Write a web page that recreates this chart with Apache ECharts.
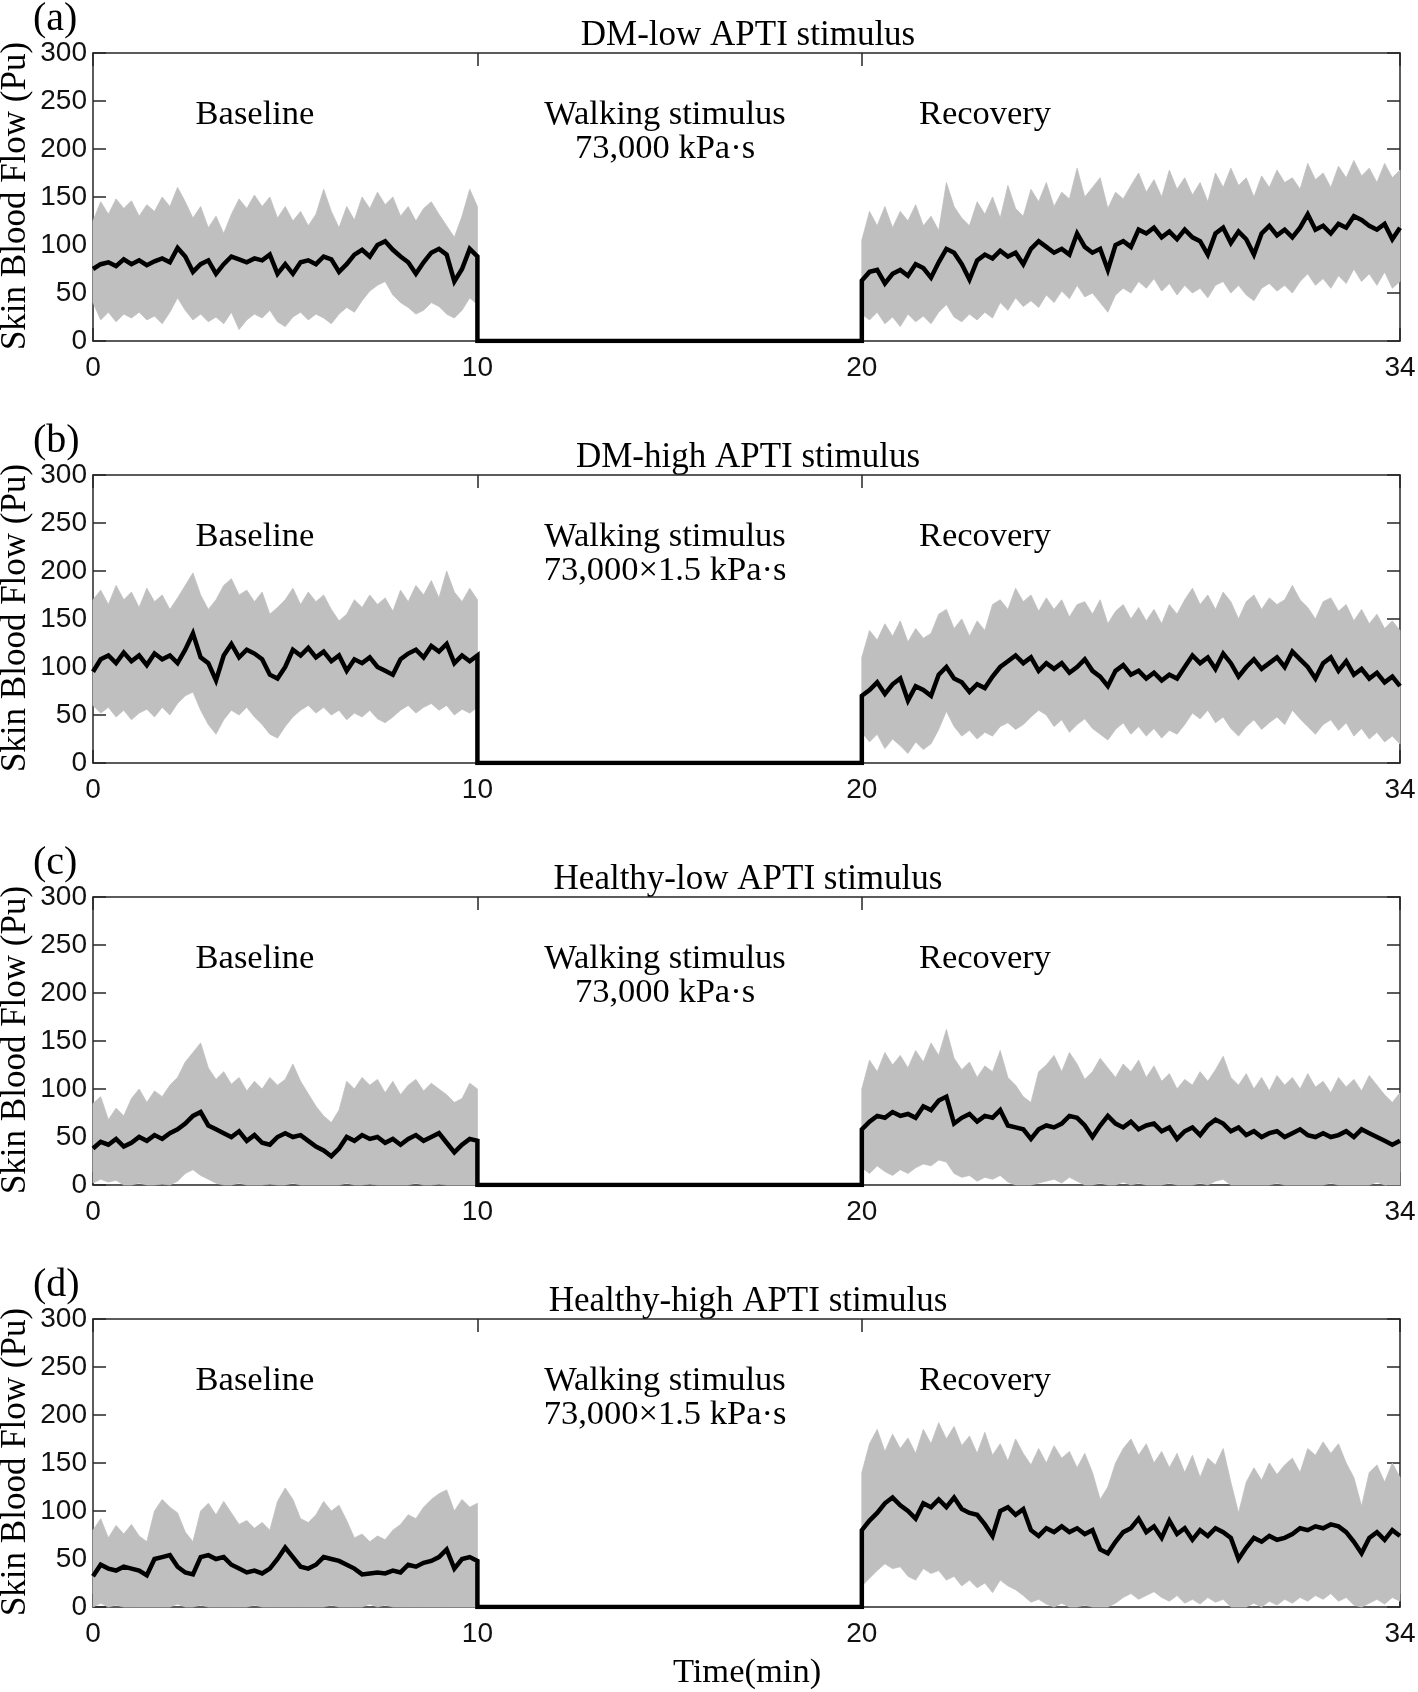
<!DOCTYPE html>
<html><head><meta charset="utf-8">
<script src="https://cdn.jsdelivr.net/npm/echarts@6/dist/echarts.min.js"></script>
<style>html,body{margin:0;padding:0;background:#fff}#c{width:1418px;height:1692px}</style>
</head><body><div id="c"></div>
<script>
// ---- sample times (min) ----
const BASE_T = [0,0.2,0.4,0.6,0.8,1,1.2,1.4,1.6,1.8, 2,2.2,2.4,2.6,2.8,3,3.2,3.4,3.6,3.8, 4,4.2,4.4,4.6,4.8,5,5.2,5.4,5.6,5.8, 6,6.2,6.4,6.6,6.8,7,7.2,7.4,7.6,7.8, 8,8.2,8.4,8.6,8.8,9,9.2,9.4,9.6,9.8, 10];
const REC_T = [20,20.2,20.4,20.6,20.8,21,21.2,21.4,21.6,21.8, 22,22.2,22.4,22.6,22.8,23,23.2,23.4,23.6,23.8, 24,24.2,24.4,24.6,24.8,25,25.2,25.4,25.6,25.8, 26,26.2,26.4,26.6,26.8,27,27.2,27.4,27.6,27.8, 28,28.2,28.4,28.6,28.8,29,29.2,29.4,29.6,29.8, 30,30.2,30.4,30.6,30.8,31,31.2,31.4,31.6,31.8, 32,32.2,32.4,32.6,32.8,33,33.2,33.4,33.6,33.8, 34];
const STIM_START = 10, STIM_END = 20;

// ---- axis ticks ----
const X_TICKS = [0, 10, 20, 34];
const Y_MIN = 0, Y_MAX = 300, Y_STEP = 50;

// ---- texts ----
const LETTERS = ['(a)', '(b)', '(c)', '(d)'];
const TITLES = ['DM-low APTI stimulus', 'DM-high APTI stimulus', 'Healthy-low APTI stimulus', 'Healthy-high APTI stimulus'];
const DOSES = ['73,000 kPa\u00b7s', '73,000\u00d71.5 kPa\u00b7s', '73,000 kPa\u00b7s', '73,000\u00d71.5 kPa\u00b7s'];
const PHASES = ['Baseline', 'Walking stimulus', 'Recovery'];
const Y_NAME = 'Skin Blood Flow (Pu)';
const X_NAME = 'Time(min)';

// ---- (a) DM-low ----
const A_BASE_MEAN = [75,80,82,78,85,80,84,79,83,86, 82,97,88,72,80,84,70,80,88,85, 82,86,84,90,70,80,70,82,84,80, 88,85,72,80,90,95,88,100,104,95, 88,82,70,82,92,96,90,62,75,96, 88];
const A_BASE_UP   = [125,145,132,148,138,146,130,142,135,150, 140,160,145,128,140,118,130,112,132,148, 138,152,140,150,128,140,125,135,120,132, 158,135,118,140,126,150,138,155,142,150, 130,140,125,138,145,132,120,108,130,158, 140];
const A_BASE_LO   = [40,22,30,20,28,24,30,22,26,18, 30,45,32,22,28,20,25,18,30,12, 22,28,24,32,20,15,25,30,22,28, 24,18,28,35,30,42,52,58,62,48, 40,35,28,32,40,36,28,24,32,45, 38];
const A_REC_MEAN  = [63,72,74,60,70,74,68,80,76,66, 82,96,92,80,64,84,90,86,94,88, 92,80,96,104,98,92,96,90,112,98, 92,96,74,100,104,98,116,112,118,108, 114,106,116,108,104,90,112,118,102,114, 106,90,112,120,110,116,108,118,132,116, 120,112,122,118,130,126,120,116,122,106, 118];
const A_REC_UP    = [105,135,120,140,118,135,125,142,120,130, 115,165,140,128,120,145,132,150,128,162, 138,130,158,145,165,140,155,148,180,150, 160,170,138,155,148,162,175,155,168,150, 178,158,170,152,165,145,175,160,180,162, 170,150,172,160,178,165,170,158,185,168, 175,160,182,170,188,172,180,165,185,170, 178];
const A_REC_LO    = [28,22,30,18,25,15,28,20,26,18, 30,38,25,20,28,22,30,24,40,32, 45,36,42,35,48,40,52,44,58,46, 50,40,30,48,55,50,62,55,65,52, 60,48,58,50,55,45,58,62,50,58, 48,42,55,60,52,58,50,62,70,58, 65,55,68,60,75,62,70,58,72,55, 62];

// ---- (b) DM-high ----
const B_BASE_MEAN = [95,108,112,104,115,106,112,102,114,108, 112,104,118,135,110,104,86,112,124,110, 118,114,108,92,88,100,118,112,120,110, 116,106,112,96,108,104,110,100,96,92, 108,114,118,110,122,116,124,104,112,106, 112];
const B_BASE_UP   = [170,180,165,185,170,178,162,182,168,175, 160,172,185,198,175,160,170,185,192,175, 180,168,178,155,162,170,182,165,178,168, 175,160,148,155,170,162,175,165,172,158, 180,168,185,175,190,172,200,178,168,182, 170];
const B_BASE_LO   = [60,52,58,48,55,45,52,56,48,58, 50,62,70,74,55,40,30,45,55,50, 58,48,40,30,26,38,48,55,60,52, 58,50,55,45,52,48,55,46,42,48, 55,60,52,58,62,55,60,50,56,52, 58];
const B_REC_MEAN  = [70,76,84,72,82,88,65,80,76,70, 92,100,88,84,74,82,78,90,100,106, 112,104,110,96,104,98,104,94,100,108, 96,90,80,96,102,92,96,88,94,86, 92,88,100,112,104,110,98,114,104,90, 100,108,98,104,110,100,116,108,100,88, 104,110,96,106,92,98,88,94,84,90, 80];
const B_REC_UP    = [110,138,128,145,132,148,126,140,130,135, 155,160,140,150,132,148,138,165,170,160, 182,168,175,158,172,160,170,152,165,168, 155,170,145,158,165,150,162,148,160,145, 165,155,170,182,165,175,160,178,168,150, 168,175,160,172,165,170,185,170,162,150, 168,172,158,165,148,160,145,155,140,148, 138];
const B_REC_LO    = [32,22,30,15,25,18,10,22,14,20, 35,54,38,28,34,25,32,28,38,42, 35,40,48,55,50,38,45,32,40,46, 36,30,24,35,42,30,38,28,36,26, 34,30,40,52,46,55,42,48,36,28, 38,45,35,42,48,40,55,46,38,30, 40,45,34,42,28,36,25,32,22,28, 20];

// ---- (c) Healthy-low ----
const C_BASE_MEAN = [38,45,42,48,40,44,50,46,52,48, 54,58,64,72,76,62,58,54,50,56, 46,52,44,42,50,54,50,52,46,40, 36,30,38,50,46,52,48,50,44,48, 42,48,52,46,50,54,44,34,42,48, 46];
const C_BASE_UP   = [85,92,68,80,72,90,100,86,98,92, 104,112,128,138,148,122,110,118,105,112, 98,108,100,112,104,110,126,108,95,82, 72,65,78,108,100,112,104,110,96,108, 94,104,110,98,106,100,94,86,90,106, 100];
const C_BASE_LO   = [2,6,3,5,0,0,2,0,0,1, 0,4,12,16,10,6,2,0,0,2, 0,0,0,1,0,0,2,0,0,0, 0,0,0,2,0,0,1,0,0,0, 0,0,2,0,0,1,0,0,0,0, 0];
const C_REC_MEAN  = [58,66,72,70,76,72,74,70,82,78, 88,92,64,70,74,66,72,70,78,62, 60,58,48,58,62,60,64,72,70,62, 50,62,72,64,60,66,58,62,64,56, 60,48,56,60,52,62,68,64,56,60, 52,56,50,54,56,50,54,58,52,50, 54,50,52,56,50,58,54,50,46,42, 46];
const C_REC_UP    = [100,130,118,138,125,135,122,140,128,148, 135,162,132,120,128,112,124,118,140,112, 104,92,86,118,125,135,118,138,126,110, 118,132,122,112,126,118,130,112,124,108, 116,100,110,104,118,108,120,134,112,104, 116,100,112,98,114,104,112,100,116,102, 108,96,112,102,110,98,114,104,94,86, 96];
const C_REC_LO    = [18,12,20,14,10,16,12,18,22,20, 26,24,12,8,10,4,8,6,10,3, 0,0,0,2,4,6,2,8,4,0, 0,2,0,0,3,0,2,0,0,0, 2,0,0,0,2,0,4,6,0,0, 0,0,0,0,2,0,0,0,0,0, 0,2,0,0,0,0,0,3,0,0, 0];

// ---- (d) Healthy-high ----
const D_BASE_MEAN = [32,44,40,38,42,40,38,33,50,52, 54,42,36,34,52,54,50,52,44,40, 36,38,35,40,50,62,52,42,40,44, 52,50,48,44,40,34,35,36,35,38, 36,44,42,46,48,52,60,40,50,52, 48];
const D_BASE_UP   = [80,92,72,85,76,86,74,68,100,112, 104,98,78,68,100,108,96,110,98,86, 90,82,88,80,110,124,112,92,88,96, 110,100,106,90,72,76,68,74,70,80, 86,96,92,104,112,118,122,100,112,104, 108];
const D_BASE_LO   = [0,4,0,2,0,0,0,0,0,0, 0,3,0,0,2,0,0,0,0,0, 0,2,0,0,0,0,0,0,0,0, 0,2,0,0,0,0,3,0,2,0, 0,0,0,0,0,0,0,0,0,0, 0];
const D_REC_MEAN  = [80,90,98,108,114,106,100,92,108,104, 112,104,114,102,98,96,86,74,100,104, 96,102,80,74,82,78,84,78,82,76, 80,60,56,68,78,82,92,78,84,72, 90,76,82,70,80,74,82,78,72,50, 62,72,68,74,70,72,76,82,80,84, 82,86,84,78,68,56,72,78,70,80, 74];
const D_REC_UP    = [140,170,185,162,180,165,176,160,185,170, 192,175,188,168,178,160,182,158,170,152, 175,160,148,165,150,168,155,162,145,160, 140,112,125,150,165,175,158,170,150,162, 145,160,140,158,135,155,148,165,130,98, 130,145,132,150,138,148,155,140,165,158, 172,160,170,150,135,105,140,148,130,150, 135];
const D_REC_LO    = [22,30,38,45,40,42,32,28,40,35, 38,28,32,22,28,20,25,15,28,22, 18,12,5,8,3,0,4,0,0,2, 0,0,0,4,10,14,8,12,16,10, 6,12,4,8,3,10,5,8,0,0, 0,4,0,6,2,8,4,10,6,12, 8,14,6,10,2,0,4,8,3,10, 6];

const PANELS = [
  {bm: A_BASE_MEAN, bu: A_BASE_UP, bl: A_BASE_LO, rm: A_REC_MEAN, ru: A_REC_UP, rl: A_REC_LO},
  {bm: B_BASE_MEAN, bu: B_BASE_UP, bl: B_BASE_LO, rm: B_REC_MEAN, ru: B_REC_UP, rl: B_REC_LO},
  {bm: C_BASE_MEAN, bu: C_BASE_UP, bl: C_BASE_LO, rm: C_REC_MEAN, ru: C_REC_UP, rl: C_REC_LO},
  {bm: D_BASE_MEAN, bu: D_BASE_UP, bl: D_BASE_LO, rm: D_REC_MEAN, ru: D_REC_UP, rl: D_REC_LO}
];

// ---- layout / style ----
const SERIF = "'Liberation Serif','Times New Roman',serif";
const SANS = "'Liberation Sans',Arial,sans-serif";
const AX = '#262626';
const BAND = '#bfbfbf';
const G_LEFT = 93, G_W = 1307, G_H = 288, G_TOP0 = 53, G_PITCH = 422;

const chart = echarts.init(document.getElementById('c'), null, {renderer: 'canvas'});

const grids = [], xAxes = [], yAxes = [], series = [], graphics = [];

PANELS.forEach((p, k) => {
  const top = G_TOP0 + k * G_PITCH;
  grids.push({left: G_LEFT, top: top, width: G_W, height: G_H, containLabel: false, outerBoundsMode: 'none'});
  const tickStyle = {show: true, inside: true, length: 13, lineStyle: {color: AX, width: 1.5}};
  const lbl = {color: '#111', fontFamily: SANS, fontSize: 28};
  xAxes.push({
    type: 'value', gridIndex: k, position: 'bottom', min: 0, max: 34,
    axisLine: {show: true, onZero: false, lineStyle: {color: AX, width: 1.5}},
    axisTick: Object.assign({customValues: X_TICKS}, tickStyle),
    axisLabel: Object.assign({show: true, customValues: X_TICKS, margin: 13}, lbl),
    splitLine: {show: false}
  });
  xAxes.push({
    type: 'value', gridIndex: k, position: 'top', min: 0, max: 34,
    axisLine: {show: true, onZero: false, lineStyle: {color: AX, width: 1.5}},
    axisTick: Object.assign({customValues: X_TICKS}, tickStyle),
    axisLabel: {show: false},
    splitLine: {show: false}
  });
  yAxes.push({
    type: 'value', gridIndex: k, position: 'left', min: Y_MIN, max: Y_MAX, interval: Y_STEP,
    axisLine: {show: true, onZero: false, lineStyle: {color: AX, width: 1.5}},
    axisTick: tickStyle,
    axisLabel: Object.assign({show: true, margin: 6}, lbl),
    splitLine: {show: false}
  });
  yAxes.push({
    type: 'value', gridIndex: k, position: 'right', min: Y_MIN, max: Y_MAX, interval: Y_STEP,
    axisLine: {show: true, onZero: false, lineStyle: {color: AX, width: 1.5}},
    axisTick: tickStyle,
    axisLabel: {show: false},
    splitLine: {show: false}
  });

  const segs = [
    {t: BASE_T, up: p.bu, lo: p.bl},
    {t: REC_T, up: p.ru, lo: p.rl}
  ];
  series.push({
    type: 'custom', xAxisIndex: 2 * k, yAxisIndex: 2 * k, silent: true, z: 1,
    data: segs.map(s => [s.t[0], 0]),
    encode: {x: 0, y: 1},
    renderItem: function (params, api) {
      const s = segs[params.dataIndex];
      const pts = [];
      for (let i = 0; i < s.t.length; i++) pts.push(api.coord([s.t[i], s.up[i]]));
      for (let i = s.t.length - 1; i >= 0; i--) pts.push(api.coord([s.t[i], s.lo[i]]));
      return {type: 'polygon', shape: {points: pts}, style: {fill: BAND, stroke: BAND, lineWidth: 0.8}};
    }
  });

  const line = [];
  BASE_T.forEach((t, i) => line.push([t, p.bm[i]]));
  line.push([STIM_START, 0]);
  line.push([STIM_END, 0]);
  REC_T.forEach((t, i) => line.push([t, p.rm[i]]));
  series.push({
    type: 'line', xAxisIndex: 2 * k, yAxisIndex: 2 * k, data: line, z: 3,
    showSymbol: false, symbol: 'none', animation: false, silent: true,
    lineStyle: {color: '#000', width: 4.5, join: 'miter'}
  });

  const dy = k * G_PITCH;
  const txt = (text, x, y, size, align) => ({
    type: 'text', x: x, y: y, silent: true,
    style: {text: text, x: 0, y: 0, fill: '#000', font: size + 'px ' + SERIF, textAlign: align || 'center', textVerticalAlign: 'middle'}
  });
  graphics.push(txt(LETTERS[k], 33, 19 + dy, 40, 'left'));
  graphics.push(txt(TITLES[k], 748, 36 + dy, 35));
  graphics.push(txt(PHASES[0], 255, 115 + dy, 34.5));
  graphics.push(txt(PHASES[1], 665, 115 + dy, 34.5));
  graphics.push(txt(DOSES[k], 665, 149 + dy, 34.5));
  graphics.push(txt(PHASES[2], 985, 115 + dy, 34.5));
  const yn = txt(Y_NAME, 16, 196 + dy, 35);
  yn.rotation = Math.PI / 2;
  graphics.push(yn);
});
graphics.push({
  type: 'text', x: 747, y: 1673, silent: true,
  style: {text: X_NAME, x: 0, y: 0, fill: '#000', font: '34.5px ' + SERIF, textAlign: 'center', textVerticalAlign: 'middle'}
});

chart.setOption({
  animation: false,
  backgroundColor: '#fff',
  grid: grids, xAxis: xAxes, yAxis: yAxes, series: series, graphic: graphics
});
</script>
</body></html>
